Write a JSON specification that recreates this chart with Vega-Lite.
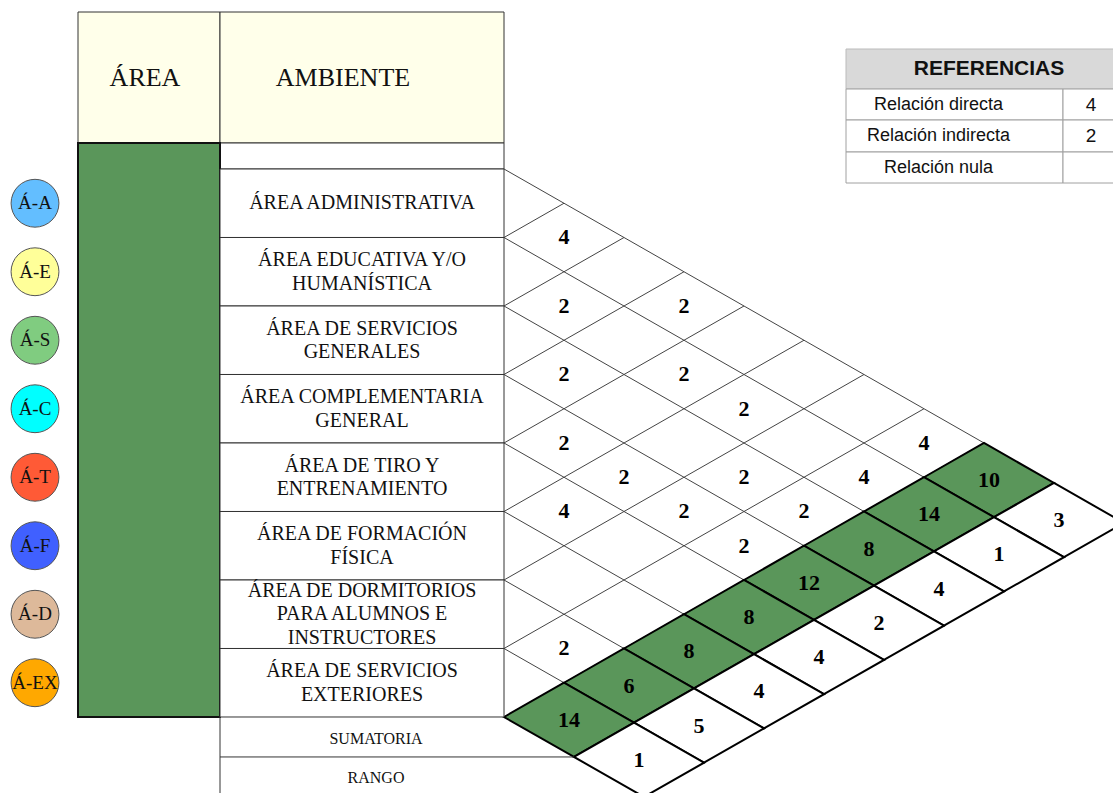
{
  "$schema": "https://vega.github.io/schema/vega-lite/v6.json",
  "width": 1113,
  "height": 793,
  "padding": 0,
  "autosize": {"type": "none"},
  "background": "white",
  "config": {"view": {"stroke": null}, "axis": {"disable": true}, "legend": {"disable": true}},
  "datasets": {
    "rows": [
      {"r": 1, "code": "Á-A", "name": "ÁREA ADMINISTRATIVA", "sum": 10, "rank": 3},
      {"r": 2, "code": "Á-E", "name": "ÁREA EDUCATIVA Y/O\nHUMANÍSTICA", "sum": 14, "rank": 1},
      {"r": 3, "code": "Á-S", "name": "ÁREA DE SERVICIOS\nGENERALES", "sum": 8, "rank": 4},
      {"r": 4, "code": "Á-C", "name": "ÁREA COMPLEMENTARIA\nGENERAL", "sum": 12, "rank": 2},
      {"r": 5, "code": "Á-T", "name": "ÁREA DE TIRO Y\nENTRENAMIENTO", "sum": 8, "rank": 4},
      {"r": 6, "code": "Á-F", "name": "ÁREA DE FORMACIÓN\nFÍSICA", "sum": 8, "rank": 4},
      {"r": 7, "code": "Á-D", "name": "ÁREA DE DORMITORIOS\nPARA ALUMNOS E\nINSTRUCTORES", "sum": 6, "rank": 5},
      {"r": 8, "code": "Á-EX", "name": "ÁREA DE SERVICIOS\nEXTERIORES", "sum": 14, "rank": 1}
    ],
    "pairs": [
      {"i": 1, "j": 2, "v": 4}, {"i": 1, "j": 3, "v": null}, {"i": 1, "j": 4, "v": 2}, {"i": 1, "j": 5, "v": null},
      {"i": 1, "j": 6, "v": null}, {"i": 1, "j": 7, "v": null}, {"i": 1, "j": 8, "v": 4},
      {"i": 2, "j": 3, "v": 2}, {"i": 2, "j": 4, "v": null}, {"i": 2, "j": 5, "v": 2}, {"i": 2, "j": 6, "v": 2},
      {"i": 2, "j": 7, "v": null}, {"i": 2, "j": 8, "v": 4},
      {"i": 3, "j": 4, "v": 2}, {"i": 3, "j": 5, "v": null}, {"i": 3, "j": 6, "v": null}, {"i": 3, "j": 7, "v": 2},
      {"i": 3, "j": 8, "v": 2},
      {"i": 4, "j": 5, "v": 2}, {"i": 4, "j": 6, "v": 2}, {"i": 4, "j": 7, "v": 2}, {"i": 4, "j": 8, "v": 2},
      {"i": 5, "j": 6, "v": 4}, {"i": 5, "j": 7, "v": null}, {"i": 5, "j": 8, "v": null},
      {"i": 6, "j": 7, "v": null}, {"i": 6, "j": 8, "v": null},
      {"i": 7, "j": 8, "v": 2}
    ],
    "refs": [
      {"r": 1, "label": "Relación directa", "val": "4"},
      {"r": 2, "label": "Relación indirecta", "val": "2"},
      {"r": 3, "label": "Relación nula", "val": ""}
    ]
  },
  "layer": [
    {
      "layer": [
        {
          "data": {"name": "rows"},
          "transform": [
            {"calculate": "0", "as": "X"}, {"calculate": "2*(datum.r-1)", "as": "Y"},
            {"calculate": "9-datum.r", "as": "X2"}, {"calculate": "7+datum.r", "as": "Y2"}
          ],
          "mark": {"type": "rule", "color": "#444444", "strokeWidth": 1},
          "encoding": {
            "x": {"field": "X", "type": "quantitative", "scale": {"domain": [-3, -2, -1, 0, 10.15], "range": [35, 78, 220, 504, 1113], "nice": false, "zero": false}},
            "y": {"field": "Y", "type": "quantitative", "scale": {"domain": [-2, -1, 0, 18.219], "range": [12, 143, 169, 793], "nice": false, "zero": false}},
            "x2": {"field": "X2"}, "y2": {"field": "Y2"}
          }
        },
        {
          "data": {"name": "rows"},
          "transform": [
            {"calculate": "0", "as": "X"}, {"calculate": "2*datum.r", "as": "Y"},
            {"calculate": "datum.r", "as": "X2"}, {"calculate": "datum.r", "as": "Y2"}
          ],
          "mark": {"type": "rule", "color": "#444444", "strokeWidth": 1},
          "encoding": {
            "x": {"field": "X", "type": "quantitative", "scale": {"domain": [-3, -2, -1, 0, 10.15], "range": [35, 78, 220, 504, 1113], "nice": false, "zero": false}},
            "y": {"field": "Y", "type": "quantitative", "scale": {"domain": [-2, -1, 0, 18.219], "range": [12, 143, 169, 793], "nice": false, "zero": false}},
            "x2": {"field": "X2"}, "y2": {"field": "Y2"}
          }
        },
        {
          "data": {"name": "rows"},
          "transform": [{"calculate": "9.0833-datum.r", "as": "X"}, {"calculate": "8.0833+datum.r", "as": "Y"}],
          "mark": {"type": "point", "shape": "M-1,-0.0439L-0.0769,-0.5708L1,0.0439L0.0769,0.5708Z", "size": 16900, "filled": true, "fill": "#5A965A", "stroke": "#000000", "strokeWidth": 2, "opacity": 1},
          "encoding": {
            "x": {"field": "X", "type": "quantitative", "scale": {"domain": [-3, -2, -1, 0, 10.15], "range": [35, 78, 220, 504, 1113], "nice": false, "zero": false}},
            "y": {"field": "Y", "type": "quantitative", "scale": {"domain": [-2, -1, 0, 18.219], "range": [12, 143, 169, 793], "nice": false, "zero": false}}
          }
        },
        {
          "data": {"name": "rows"},
          "transform": [{"calculate": "10.25-datum.r", "as": "X"}, {"calculate": "9.25+datum.r", "as": "Y"}],
          "mark": {"type": "point", "shape": "M-1,-0.0439L-0.0769,-0.5708L1,0.0439L0.0769,0.5708Z", "size": 16900, "filled": true, "fill": "#FFFFFF", "stroke": "#000000", "strokeWidth": 2, "opacity": 1},
          "encoding": {
            "x": {"field": "X", "type": "quantitative", "scale": {"domain": [-3, -2, -1, 0, 10.15], "range": [35, 78, 220, 504, 1113], "nice": false, "zero": false}},
            "y": {"field": "Y", "type": "quantitative", "scale": {"domain": [-2, -1, 0, 18.219], "range": [12, 143, 169, 793], "nice": false, "zero": false}}
          }
        },
        {
          "data": {"name": "rows"},
          "transform": [{"calculate": "9.0833-datum.r", "as": "X"}, {"calculate": "8.0833+datum.r", "as": "Y"}],
          "mark": {"type": "text", "font": "Liberation Serif", "fontSize": 22, "fontWeight": "bold", "color": "#000000", "baseline": "middle", "align": "center"},
          "encoding": {
            "x": {"field": "X", "type": "quantitative", "scale": {"domain": [-3, -2, -1, 0, 10.15], "range": [35, 78, 220, 504, 1113], "nice": false, "zero": false}},
            "y": {"field": "Y", "type": "quantitative", "scale": {"domain": [-2, -1, 0, 18.219], "range": [12, 143, 169, 793], "nice": false, "zero": false}},
            "text": {"field": "sum", "type": "nominal"}
          }
        },
        {
          "data": {"name": "rows"},
          "transform": [{"calculate": "10.25-datum.r", "as": "X"}, {"calculate": "9.25+datum.r", "as": "Y"}],
          "mark": {"type": "text", "font": "Liberation Serif", "fontSize": 22, "fontWeight": "bold", "color": "#000000", "baseline": "middle", "align": "center"},
          "encoding": {
            "x": {"field": "X", "type": "quantitative", "scale": {"domain": [-3, -2, -1, 0, 10.15], "range": [35, 78, 220, 504, 1113], "nice": false, "zero": false}},
            "y": {"field": "Y", "type": "quantitative", "scale": {"domain": [-2, -1, 0, 18.219], "range": [12, 143, 169, 793], "nice": false, "zero": false}},
            "text": {"field": "rank", "type": "nominal"}
          }
        },
        {
          "data": {"name": "pairs"},
          "transform": [
            {"filter": "isValid(datum.v)"},
            {"calculate": "datum.j-datum.i", "as": "X"}, {"calculate": "datum.i+datum.j-1", "as": "Y"}
          ],
          "mark": {"type": "text", "font": "Liberation Serif", "fontSize": 22, "fontWeight": "bold", "color": "#000000", "baseline": "middle", "align": "center"},
          "encoding": {
            "x": {"field": "X", "type": "quantitative", "scale": {"domain": [-3, -2, -1, 0, 10.15], "range": [35, 78, 220, 504, 1113], "nice": false, "zero": false}},
            "y": {"field": "Y", "type": "quantitative", "scale": {"domain": [-2, -1, 0, 18.219], "range": [12, 143, 169, 793], "nice": false, "zero": false}},
            "text": {"field": "v", "type": "nominal"}
          }
        },
        {
          "data": {"values": [{"label": "ÁREA", "c": -2}, {"label": "AMBIENTE", "c": -1}]},
          "transform": [
            {"calculate": "datum.c", "as": "X"}, {"calculate": "datum.c+1", "as": "X2"},
            {"calculate": "-2", "as": "Y"}, {"calculate": "-1", "as": "Y2"}
          ],
          "mark": {"type": "rect", "fill": "#FFFFEA", "stroke": "#333333", "strokeWidth": 1},
          "encoding": {
            "x": {"field": "X", "type": "quantitative", "scale": {"domain": [-3, -2, -1, 0, 10.15], "range": [35, 78, 220, 504, 1113], "nice": false, "zero": false}},
            "y": {"field": "Y", "type": "quantitative", "scale": {"domain": [-2, -1, 0, 18.219], "range": [12, 143, 169, 793], "nice": false, "zero": false}},
            "x2": {"field": "X2"}, "y2": {"field": "Y2"}
          }
        },
        {
          "data": {"values": [{"label": "ÁREA", "c": -2}]},
          "transform": [{"calculate": "datum.c+0.5", "as": "X"}, {"calculate": "-1.5", "as": "Y"}],
          "mark": {"type": "text", "font": "Liberation Serif", "fontSize": 26, "color": "#111111", "baseline": "middle", "align": "center", "dx": -4},
          "encoding": {
            "x": {"field": "X", "type": "quantitative", "scale": {"domain": [-3, -2, -1, 0, 10.15], "range": [35, 78, 220, 504, 1113], "nice": false, "zero": false}},
            "y": {"field": "Y", "type": "quantitative", "scale": {"domain": [-2, -1, 0, 18.219], "range": [12, 143, 169, 793], "nice": false, "zero": false}},
            "text": {"field": "label", "type": "nominal"}
          }
        },
        {
          "data": {"values": [{"label": "AMBIENTE", "c": -1}]},
          "transform": [{"calculate": "datum.c+0.5", "as": "X"}, {"calculate": "-1.5", "as": "Y"}],
          "mark": {"type": "text", "font": "Liberation Serif", "fontSize": 26, "color": "#111111", "baseline": "middle", "align": "center", "dx": -19},
          "encoding": {
            "x": {"field": "X", "type": "quantitative", "scale": {"domain": [-3, -2, -1, 0, 10.15], "range": [35, 78, 220, 504, 1113], "nice": false, "zero": false}},
            "y": {"field": "Y", "type": "quantitative", "scale": {"domain": [-2, -1, 0, 18.219], "range": [12, 143, 169, 793], "nice": false, "zero": false}},
            "text": {"field": "label", "type": "nominal"}
          }
        },
        {
          "data": {"values": [{"part": "blank"}]},
          "transform": [
            {"calculate": "-1", "as": "X"}, {"calculate": "0", "as": "X2"},
            {"calculate": "-1", "as": "Y"}, {"calculate": "0", "as": "Y2"}
          ],
          "mark": {"type": "rect", "fill": "#FFFFFF", "stroke": "#333333", "strokeWidth": 1},
          "encoding": {
            "x": {"field": "X", "type": "quantitative", "scale": {"domain": [-3, -2, -1, 0, 10.15], "range": [35, 78, 220, 504, 1113], "nice": false, "zero": false}},
            "y": {"field": "Y", "type": "quantitative", "scale": {"domain": [-2, -1, 0, 18.219], "range": [12, 143, 169, 793], "nice": false, "zero": false}},
            "x2": {"field": "X2"}, "y2": {"field": "Y2"}
          }
        },
        {
          "data": {"values": [{"part": "area"}]},
          "transform": [
            {"calculate": "-2", "as": "X"}, {"calculate": "-1", "as": "X2"},
            {"calculate": "-1", "as": "Y"}, {"calculate": "16", "as": "Y2"}
          ],
          "mark": {"type": "rect", "fill": "#5A965A", "stroke": "#111111", "strokeWidth": 2},
          "encoding": {
            "x": {"field": "X", "type": "quantitative", "scale": {"domain": [-3, -2, -1, 0, 10.15], "range": [35, 78, 220, 504, 1113], "nice": false, "zero": false}},
            "y": {"field": "Y", "type": "quantitative", "scale": {"domain": [-2, -1, 0, 18.219], "range": [12, 143, 169, 793], "nice": false, "zero": false}},
            "x2": {"field": "X2"}, "y2": {"field": "Y2"}
          }
        },
        {
          "data": {"name": "rows"},
          "transform": [
            {"calculate": "-1", "as": "X"}, {"calculate": "0", "as": "X2"},
            {"calculate": "2*datum.r-2", "as": "Y"}, {"calculate": "2*datum.r", "as": "Y2"}
          ],
          "mark": {"type": "rect", "fill": "#FFFFFF", "stroke": "#333333", "strokeWidth": 1},
          "encoding": {
            "x": {"field": "X", "type": "quantitative", "scale": {"domain": [-3, -2, -1, 0, 10.15], "range": [35, 78, 220, 504, 1113], "nice": false, "zero": false}},
            "y": {"field": "Y", "type": "quantitative", "scale": {"domain": [-2, -1, 0, 18.219], "range": [12, 143, 169, 793], "nice": false, "zero": false}},
            "x2": {"field": "X2"}, "y2": {"field": "Y2"}
          }
        },
        {
          "data": {"name": "rows"},
          "transform": [
            {"calculate": "-0.5", "as": "X"},
            {"calculate": "2*datum.r-1-(length(split(datum.name,'\\n'))-1)*0.343", "as": "Y"}
          ],
          "mark": {"type": "text", "font": "Liberation Serif", "fontSize": 20, "color": "#111111", "baseline": "middle", "align": "center", "lineBreak": "\n", "lineHeight": 23.5},
          "encoding": {
            "x": {"field": "X", "type": "quantitative", "scale": {"domain": [-3, -2, -1, 0, 10.15], "range": [35, 78, 220, 504, 1113], "nice": false, "zero": false}},
            "y": {"field": "Y", "type": "quantitative", "scale": {"domain": [-2, -1, 0, 18.219], "range": [12, 143, 169, 793], "nice": false, "zero": false}},
            "text": {"field": "name", "type": "nominal"}
          }
        },
        {
          "data": {"name": "rows"},
          "transform": [{"calculate": "-3", "as": "X"}, {"calculate": "2*datum.r-1", "as": "Y"}],
          "mark": {"type": "point", "shape": "circle", "size": 2290, "filled": true, "stroke": "#555555", "strokeWidth": 1, "opacity": 1},
          "encoding": {
            "x": {"field": "X", "type": "quantitative", "scale": {"domain": [-3, -2, -1, 0, 10.15], "range": [35, 78, 220, 504, 1113], "nice": false, "zero": false}},
            "y": {"field": "Y", "type": "quantitative", "scale": {"domain": [-2, -1, 0, 18.219], "range": [12, 143, 169, 793], "nice": false, "zero": false}},
            "color": {"field": "code", "type": "nominal", "legend": null,
              "scale": {"domain": ["Á-A", "Á-E", "Á-S", "Á-C", "Á-T", "Á-F", "Á-D", "Á-EX"],
                        "range": ["#63BEFF", "#FFFF99", "#80CC80", "#00FFFF", "#FF5A36", "#4060FF", "#DDB99A", "#FFA800"]}}
          }
        },
        {
          "data": {"name": "rows"},
          "transform": [{"calculate": "-3", "as": "X"}, {"calculate": "2*datum.r-1", "as": "Y"}],
          "mark": {"type": "text", "font": "Liberation Serif", "fontSize": 19, "color": "#111111", "baseline": "middle", "align": "center"},
          "encoding": {
            "x": {"field": "X", "type": "quantitative", "scale": {"domain": [-3, -2, -1, 0, 10.15], "range": [35, 78, 220, 504, 1113], "nice": false, "zero": false}},
            "y": {"field": "Y", "type": "quantitative", "scale": {"domain": [-2, -1, 0, 18.219], "range": [12, 143, 169, 793], "nice": false, "zero": false}},
            "text": {"field": "code", "type": "nominal"}
          }
        },
        {
          "data": {"values": [{"label": "SUMATORIA", "k": 0}, {"label": "RANGO", "k": 1}]},
          "transform": [{"calculate": "-0.5", "as": "X"}, {"calculate": "16.65+1.12*datum.k", "as": "Y"}],
          "mark": {"type": "text", "font": "Liberation Serif", "fontSize": 16, "color": "#111111", "baseline": "middle", "align": "center", "dx": 14},
          "encoding": {
            "x": {"field": "X", "type": "quantitative", "scale": {"domain": [-3, -2, -1, 0, 10.15], "range": [35, 78, 220, 504, 1113], "nice": false, "zero": false}},
            "y": {"field": "Y", "type": "quantitative", "scale": {"domain": [-2, -1, 0, 18.219], "range": [12, 143, 169, 793], "nice": false, "zero": false}},
            "text": {"field": "label", "type": "nominal"}
          }
        },
        {
          "data": {"values": [{"seg": "sum-bottom"}, {"seg": "left-edge"}]},
          "transform": [
            {"calculate": "-1", "as": "X"},
            {"calculate": "datum.seg == 'sum-bottom' ? 1.1667 : -1", "as": "X2"},
            {"calculate": "datum.seg == 'sum-bottom' ? 17.1667 : 16", "as": "Y"},
            {"calculate": "datum.seg == 'sum-bottom' ? 17.1667 : 18.6", "as": "Y2"}
          ],
          "mark": {"type": "rule", "color": "#333333", "strokeWidth": 1},
          "encoding": {
            "x": {"field": "X", "type": "quantitative", "scale": {"domain": [-3, -2, -1, 0, 10.15], "range": [35, 78, 220, 504, 1113], "nice": false, "zero": false}},
            "y": {"field": "Y", "type": "quantitative", "scale": {"domain": [-2, -1, 0, 18.219], "range": [12, 143, 169, 793], "nice": false, "zero": false}},
            "x2": {"field": "X2"}, "y2": {"field": "Y2"}
          }
        }
      ]
    },
    {
      "layer": [
        {
          "data": {"values": [{"label": "REFERENCIAS"}]},
          "transform": [
            {"calculate": "0", "as": "X"}, {"calculate": "2.2", "as": "X2"},
            {"calculate": "0", "as": "Y"}, {"calculate": "1", "as": "Y2"}
          ],
          "mark": {"type": "rect", "fill": "#D9D9D9", "stroke": "#BBBBBB", "strokeWidth": 1},
          "encoding": {
            "x": {"field": "X", "type": "quantitative", "scale": {"domain": [0, 1, 2], "range": [846, 1063, 1113], "nice": false, "zero": false}},
            "y": {"field": "Y", "type": "quantitative", "scale": {"domain": [0, 1, 2, 3, 4], "range": [49, 89, 120, 152, 183], "nice": false, "zero": false}},
            "x2": {"field": "X2"}, "y2": {"field": "Y2"}
          }
        },
        {
          "data": {"values": [{"label": "REFERENCIAS"}]},
          "transform": [{"calculate": "1", "as": "X"}, {"calculate": "0.5", "as": "Y"}],
          "mark": {"type": "text", "font": "Liberation Sans", "fontSize": 21, "fontWeight": "bold", "color": "#111111", "baseline": "middle", "align": "center", "dx": -74},
          "encoding": {
            "x": {"field": "X", "type": "quantitative", "scale": {"domain": [0, 1, 2], "range": [846, 1063, 1113], "nice": false, "zero": false}},
            "y": {"field": "Y", "type": "quantitative", "scale": {"domain": [0, 1, 2, 3, 4], "range": [49, 89, 120, 152, 183], "nice": false, "zero": false}},
            "text": {"field": "label", "type": "nominal"}
          }
        },
        {
          "data": {"name": "refs"},
          "transform": [
            {"calculate": "0", "as": "X"}, {"calculate": "1", "as": "X2"},
            {"calculate": "datum.r", "as": "Y"}, {"calculate": "datum.r+1", "as": "Y2"}
          ],
          "mark": {"type": "rect", "fill": "#FFFFFF", "stroke": "#A0A0A0", "strokeWidth": 1},
          "encoding": {
            "x": {"field": "X", "type": "quantitative", "scale": {"domain": [0, 1, 2], "range": [846, 1063, 1113], "nice": false, "zero": false}},
            "y": {"field": "Y", "type": "quantitative", "scale": {"domain": [0, 1, 2, 3, 4], "range": [49, 89, 120, 152, 183], "nice": false, "zero": false}},
            "x2": {"field": "X2"}, "y2": {"field": "Y2"}
          }
        },
        {
          "data": {"name": "refs"},
          "transform": [
            {"calculate": "1", "as": "X"}, {"calculate": "2.2", "as": "X2"},
            {"calculate": "datum.r", "as": "Y"}, {"calculate": "datum.r+1", "as": "Y2"}
          ],
          "mark": {"type": "rect", "fill": "#FFFFFF", "stroke": "#A0A0A0", "strokeWidth": 1},
          "encoding": {
            "x": {"field": "X", "type": "quantitative", "scale": {"domain": [0, 1, 2], "range": [846, 1063, 1113], "nice": false, "zero": false}},
            "y": {"field": "Y", "type": "quantitative", "scale": {"domain": [0, 1, 2, 3, 4], "range": [49, 89, 120, 152, 183], "nice": false, "zero": false}},
            "x2": {"field": "X2"}, "y2": {"field": "Y2"}
          }
        },
        {
          "data": {"name": "refs"},
          "transform": [{"calculate": "0.5", "as": "X"}, {"calculate": "datum.r+0.5", "as": "Y"}],
          "mark": {"type": "text", "font": "Liberation Sans", "fontSize": 18, "color": "#111111", "baseline": "middle", "align": "center", "dx": -16},
          "encoding": {
            "x": {"field": "X", "type": "quantitative", "scale": {"domain": [0, 1, 2], "range": [846, 1063, 1113], "nice": false, "zero": false}},
            "y": {"field": "Y", "type": "quantitative", "scale": {"domain": [0, 1, 2, 3, 4], "range": [49, 89, 120, 152, 183], "nice": false, "zero": false}},
            "text": {"field": "label", "type": "nominal"}
          }
        },
        {
          "data": {"name": "refs"},
          "transform": [{"calculate": "1.5", "as": "X"}, {"calculate": "datum.r+0.5", "as": "Y"}],
          "mark": {"type": "text", "font": "Liberation Sans", "fontSize": 19, "color": "#111111", "baseline": "middle", "align": "center", "dx": 3},
          "encoding": {
            "x": {"field": "X", "type": "quantitative", "scale": {"domain": [0, 1, 2], "range": [846, 1063, 1113], "nice": false, "zero": false}},
            "y": {"field": "Y", "type": "quantitative", "scale": {"domain": [0, 1, 2, 3, 4], "range": [49, 89, 120, 152, 183], "nice": false, "zero": false}},
            "text": {"field": "val", "type": "nominal"}
          }
        }
      ]
    }
  ],
  "resolve": {"scale": {"x": "independent", "y": "independent"}}
}
